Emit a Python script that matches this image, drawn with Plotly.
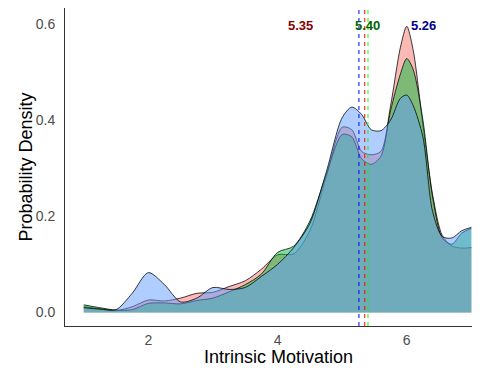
import plotly.graph_objects as go

# Kernel density estimates of intrinsic motivation for three groups
x_grid = [1.0, 1.25, 1.5, 1.75, 2.0, 2.25, 2.5, 2.75, 3.0, 3.25, 3.5, 3.75, 4.0, 4.25,
          4.5, 4.75, 5.0, 5.15, 5.3, 5.45, 5.6, 5.75, 5.9, 6.0, 6.1, 6.25, 6.4, 6.55,
          6.7, 6.85, 7.0]

dens_red = [0.012, 0.008, 0.004, 0.012, 0.026, 0.024, 0.030, 0.040, 0.042, 0.054, 0.066,
            0.090, 0.120, 0.122, 0.170, 0.280, 0.385, 0.380, 0.335, 0.328, 0.335, 0.430,
            0.550, 0.595, 0.545, 0.390, 0.245, 0.160, 0.138, 0.134, 0.135]

dens_green = [0.016, 0.010, 0.005, 0.006, 0.019, 0.020, 0.018, 0.025, 0.030, 0.043, 0.058,
              0.080, 0.125, 0.138, 0.190, 0.285, 0.370, 0.365, 0.320, 0.308, 0.325, 0.420,
              0.495, 0.528, 0.505, 0.400, 0.240, 0.155, 0.142, 0.165, 0.175]

dens_blue = [0.010, 0.007, 0.006, 0.040, 0.083, 0.058, 0.022, 0.030, 0.052, 0.048, 0.052,
             0.075, 0.100, 0.135, 0.185, 0.290, 0.405, 0.427, 0.412, 0.380, 0.378, 0.400,
             0.445, 0.452, 0.430, 0.365, 0.210, 0.158, 0.155, 0.170, 0.177]

# Group means
mean_red = 5.35
mean_green = 5.40
mean_blue = 5.26

fills = [
    (dens_red, "rgba(248,118,109,0.5)"),
    (dens_green, "rgba(0,186,56,0.5)"),
    (dens_blue, "rgba(97,156,255,0.5)"),
]

fig = go.Figure()
for dens, fc in fills:
    fig.add_trace(go.Scatter(
        x=x_grid, y=dens, mode="lines", fill="tozeroy", fillcolor=fc,
        line=dict(color="rgba(0,0,0,0.85)", width=0.9, shape="spline", smoothing=0.8),
        hoverinfo="skip", showlegend=False,
    ))

# Dashed mean lines
for m, col in [(mean_blue, "#0000FF"), (mean_red, "#FF0000"), (mean_green, "#00FF00")]:
    fig.add_shape(type="line", xref="x", yref="paper", x0=m, x1=m, y0=0, y1=1,
                  line=dict(color=col, width=1, dash="4px,4px"), layer="above")

# Mean labels
for m, off, col in [(mean_red, -1.0, "#8B0000"), (mean_green, 0.0, "#006400"),
                    (mean_blue, 1.0, "#00008B")]:
    fig.add_annotation(x=m + off, y=0.596, xref="x", yref="y", text=f"<b>{m:.2f}</b>",
                       showarrow=False, font=dict(size=13, color=col,
                                                  family="Liberation Sans, Arial"))

# Axis titles (positioned relative to the 407 x 318 px panel)
fig.add_annotation(text="Intrinsic Motivation", showarrow=False,
                   xref="paper", yref="paper", x=0.525, y=-(358 - 326.7) / 318.4,
                   xanchor="center", yanchor="middle",
                   font=dict(size=18, color="black"))
fig.add_annotation(text="Probability Density", textangle=-90, showarrow=False,
                   xref="paper", yref="paper", x=-(65 - 25.5) / 407, y=0.5,
                   xanchor="center", yanchor="middle",
                   font=dict(size=18, color="black"))

fig.update_layout(
    width=481, height=370,
    margin=dict(l=65, r=9, t=8, b=44),
    paper_bgcolor="white", plot_bgcolor="white",
    font=dict(family="Liberation Sans, Arial", color="#4D4D4D", size=14),
    xaxis=dict(range=[0.71, 7.01], tickvals=[2, 4, 6], ticktext=["2", "4", "6"],
               showgrid=False, zeroline=False, showline=True, linecolor="#333333",
               linewidth=1, ticks="", ticklabelstandoff=1),
    yaxis=dict(range=[-0.028, 0.633], tickvals=[0, 0.2, 0.4, 0.6],
               ticktext=["0.0", "0.2", "0.4", "0.6"], showgrid=False, zeroline=False,
               showline=True, linecolor="#333333", linewidth=1, ticks="",
               ticklabelstandoff=6),
)

fig.write_html("out.html")
